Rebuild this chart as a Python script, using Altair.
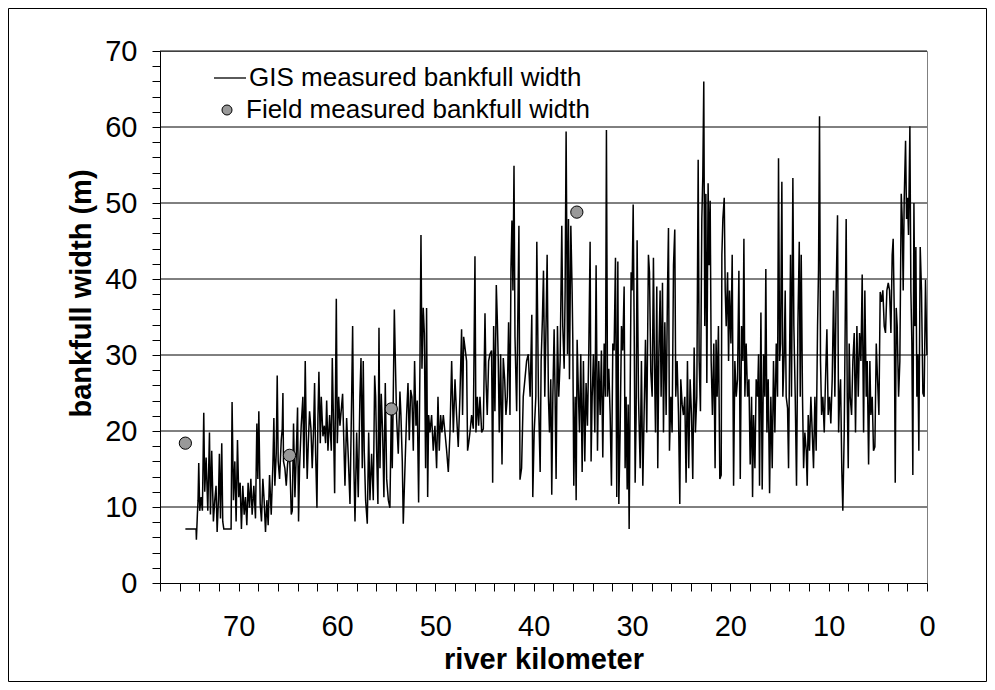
import altair as alt
import pandas as pd

# ---- GIS measured bankfull width (river km, width m) ----
km_a = [75.42, 74.33, 74.30, 74.20, 74.13, 74.06, 73.96, 73.82, 73.69, 73.55, 73.45, 73.31, 73.14, 72.97,
        72.87, 72.74, 72.57, 72.43, 72.30, 72.19, 72.06, 71.96, 71.85, 71.72, 71.62, 71.51, 70.77, 70.67,
        70.53, 70.39, 70.26, 70.12, 69.99, 69.85, 69.72, 69.58, 69.44, 69.31, 69.17, 69.04, 68.90, 68.76,
        68.63, 68.46, 68.29, 68.15, 68.05, 67.95, 67.81, 67.68, 67.54, 67.41, 67.27, 67.13, 67.00, 66.86,
        66.69, 66.52, 66.42, 66.32, 66.18, 66.08, 65.98, 65.84, 65.67, 65.57, 65.50, 65.44, 65.30, 65.16,
        65.03, 64.83, 64.65, 64.55, 64.42, 64.28, 64.15, 64.01, 63.91, 63.81, 63.64, 63.47, 63.37, 63.23,
        63.13, 63.03, 62.92, 62.79, 62.65, 62.52, 62.38, 62.28, 62.18, 62.04, 61.94, 61.84, 61.70, 61.60,
        61.43, 61.29, 61.16, 61.05, 60.92, 60.75, 60.58, 60.48, 60.34, 60.24, 60.17, 60.07, 59.97, 59.83]
w_a = [7.1, 7.1, 5.7, 9.0, 10.9, 15.8, 9.5, 11.3, 9.5, 22.4, 12.0, 16.5, 9.5, 19.8,
       9.0, 17.4, 8.1, 10.9, 12.8, 6.7, 10.9, 17.0, 8.5, 18.4, 8.1, 7.1, 7.1, 23.8,
       10.9, 16.0, 8.1, 18.8, 11.3, 13.2, 7.1, 12.8, 9.0, 11.3, 7.6, 13.2, 9.9, 13.7,
       9.0, 12.8, 8.5, 21.0, 13.7, 22.6, 10.4, 8.1, 13.7, 10.9, 6.7, 10.9, 7.6, 14.2,
       9.0, 15.6, 21.7, 12.8, 17.0, 27.3, 16.0, 13.7, 18.8, 20.3, 25.0, 16.0, 15.1, 12.8,
       15.6, 17.4, 9.0, 9.5, 21.0, 11.3, 16.5, 23.1, 8.1, 15.1, 20.7, 24.5, 15.1, 29.2,
       19.8, 13.7, 18.4, 22.6, 20.3, 15.1, 20.3, 26.3, 17.4, 9.9, 21.7, 27.8, 18.4, 24.5,
       19.3, 20.7, 18.4, 24.0, 17.4, 22.1, 17.4, 29.6, 19.8, 11.8, 22.6, 37.4, 18.4, 24.5]

km_b = [59.70, 59.43, 59.19, 59.02, 58.85, 58.68, 58.51, 58.41, 58.28, 58.17, 58.00, 57.84, 57.67, 57.56,
        57.43, 57.33, 57.23, 57.09, 56.92, 56.78, 56.65, 56.48, 56.31, 56.17, 56.07, 55.97, 55.84, 55.73,
        55.63, 55.50, 55.36, 55.23, 55.09, 54.95, 54.78, 54.62, 54.48, 54.38, 54.28, 54.17, 54.07, 53.94,
        53.77, 53.60, 53.50, 53.36, 53.26, 53.09, 52.92, 52.78, 52.65, 52.51, 52.38, 52.24, 52.11, 51.97,
        51.84, 51.70, 51.56, 51.46, 51.36, 51.23, 51.12, 50.99, 50.89, 50.78, 50.68, 50.55, 50.38, 50.21,
        50.04, 49.87, 49.73, 49.60, 49.46, 49.33, 49.19, 49.02, 48.85, 48.68, 48.51, 48.34, 48.17, 48.00,
        47.84, 47.67, 47.50, 47.33, 47.23, 47.12, 46.99, 46.82, 46.72, 46.61, 46.48, 46.31, 46.14, 45.97,
        45.87, 45.73, 45.60, 45.46, 45.29, 45.12, 44.95, 44.85, 44.72, 44.58, 44.45, 44.28, 44.17, 44.07,
        43.94, 43.80, 43.70, 43.60, 43.50, 43.36, 43.22, 43.09, 42.95, 42.82, 42.68, 42.55, 42.41, 42.31,
        42.21, 42.11, 42.00, 41.90, 41.73, 41.60, 41.50, 41.39, 41.23, 41.06, 40.89, 40.72, 40.55]
w_b = [20.7, 24.9, 12.8, 21.7, 16.5, 10.4, 24.5, 33.8, 15.1, 8.1, 19.8, 11.3, 24.5, 29.6,
       15.1, 29.2, 17.4, 10.9, 7.8, 19.8, 10.9, 17.0, 10.9, 27.3, 24.5, 17.4, 10.4, 33.6,
       15.1, 24.9, 19.8, 11.3, 26.3, 13.7, 10.9, 9.9, 22.6, 15.1, 24.5, 36.0, 29.6, 21.7,
       17.0, 25.2, 22.1, 16.0, 7.8, 15.1, 22.1, 26.3, 18.8, 25.4, 24.5, 17.4, 29.2, 20.7,
       24.0, 10.6, 29.2, 45.8, 28.2, 36.2, 32.9, 15.1, 36.2, 11.3, 22.1, 19.8, 22.1, 17.4,
       20.7, 15.1, 24.5, 17.4, 22.1, 19.8, 22.1, 19.8, 17.4, 14.6, 19.8, 29.2, 19.8, 26.8,
       22.1, 17.9, 24.5, 33.4, 22.1, 32.4, 31.0, 29.2, 17.4, 18.4, 19.8, 22.1, 20.3, 43.0,
       19.8, 24.5, 20.7, 24.5, 19.8, 20.3, 35.5, 26.8, 22.1, 29.2, 30.1, 30.6, 13.2, 33.8,
       22.6, 39.2, 34.8, 29.2, 19.8, 30.1, 15.6, 29.6, 26.8, 22.1, 24.5, 34.3, 22.1, 41.3,
       47.7, 38.5, 54.9, 32.4, 22.6, 36.2, 47.0, 13.6, 15.1, 24.5, 26.8, 29.2, 30.1]

km_c = [40.36, 40.19, 40.09, 39.95, 39.78, 39.68, 39.51, 39.34, 39.24, 39.11, 39.00, 38.87, 38.73, 38.63,
        38.50, 38.39, 38.26, 38.16, 38.05, 37.92, 37.82, 37.72, 37.58, 37.45, 37.31, 37.14, 37.04, 36.90,
        36.80, 36.70, 36.56, 36.46, 36.36, 36.22, 36.09, 36.02, 35.92, 35.78, 35.68, 35.58, 35.44, 35.34,
        35.21, 35.07, 34.94, 34.80, 34.67, 34.53, 34.39, 34.26, 34.16, 34.05, 33.92, 33.78, 33.65, 33.51,
        33.38, 33.24, 33.11, 32.97, 32.83, 32.70, 32.60, 32.49, 32.36, 32.22, 32.09, 31.95, 31.82, 31.68,
        31.55, 31.44, 31.34, 31.21, 31.07, 30.94, 30.80, 30.70, 30.60, 30.49, 30.39, 30.29, 30.19, 30.09,
        29.99, 29.88, 29.78, 29.68, 29.58, 29.48, 29.34, 29.17, 29.04, 28.90, 28.77, 28.63, 28.50, 28.33,
        28.22, 28.09, 27.95, 27.82, 27.72, 27.61, 27.48, 27.38, 27.27, 27.14, 27.04, 26.90, 26.80, 26.66,
        26.53, 26.39, 26.29, 26.19, 26.05, 25.92, 25.78, 25.65, 25.55, 25.41, 25.27, 25.14, 25.04, 24.90,
        24.77, 24.63, 24.50, 24.36, 24.23, 24.09, 23.95, 23.82, 23.68, 23.55, 23.41, 23.27, 23.17, 23.04,
        22.90, 22.80, 22.70, 22.60, 22.49, 22.39, 22.26, 22.16, 22.05, 21.95, 21.82, 21.68, 21.55, 21.45,
        21.34, 21.21, 21.07]
w_c = [24.5, 35.3, 11.3, 19.8, 24.5, 44.9, 24.5, 14.6, 29.2, 34.8, 41.1, 24.5, 34.8, 43.2,
       24.5, 19.8, 26.8, 11.6, 24.5, 33.4, 24.5, 13.7, 33.8, 24.5, 29.2, 47.0, 33.8, 28.2,
       38.5, 59.4, 30.1, 47.9, 26.8, 47.0, 38.5, 32.0, 12.8, 24.5, 10.9, 32.0, 24.5, 19.8,
       30.1, 14.6, 29.2, 16.0, 26.3, 20.7, 31.0, 44.9, 16.0, 24.5, 30.1, 19.8, 41.8, 17.4,
       29.2, 22.1, 30.6, 16.5, 31.5, 24.5, 59.6, 24.5, 28.2, 22.1, 12.8, 31.5, 30.6, 42.8,
       11.3, 42.3, 10.4, 19.8, 33.8, 30.6, 39.0, 15.1, 24.5, 12.3, 23.5, 7.1, 24.5, 40.9,
       38.5, 49.8, 33.8, 13.2, 22.1, 45.1, 24.5, 15.1, 29.2, 12.8, 22.1, 32.0, 19.8, 43.2,
       40.9, 27.8, 24.5, 42.8, 29.2, 19.8, 39.0, 15.1, 30.1, 38.5, 24.5, 39.5, 19.8, 34.3,
       22.1, 38.5, 46.7, 17.4, 24.5, 19.8, 41.8, 46.5, 24.5, 29.2, 22.1, 10.4, 26.8, 23.5,
       22.1, 24.5, 13.2, 29.2, 15.1, 26.8, 22.1, 13.7, 31.0, 19.8, 24.5, 55.7, 29.2, 22.6,
       47.9, 53.5, 66.0, 33.8, 51.2, 26.3, 52.6, 41.8, 50.3, 29.2, 22.1, 31.5, 15.1, 32.0,
       24.5, 33.8, 13.7]

km_d = [20.93, 20.86, 20.76, 20.62, 20.52, 20.42, 20.28, 20.18, 20.08, 19.94, 19.81, 19.67, 19.54, 19.40,
        19.27, 19.13, 18.99, 18.86, 18.72, 18.62, 18.52, 18.39, 18.25, 18.11, 17.98, 17.84, 17.74, 17.64,
        17.50, 17.37, 17.23, 17.13, 17.03, 16.89, 16.76, 16.62, 16.49, 16.39, 16.28, 16.15, 16.01, 15.88,
        15.74, 15.61, 15.47, 15.33, 15.20, 15.10, 14.99, 14.89, 14.76, 14.66, 14.52, 14.42, 14.32, 14.18,
        14.08, 13.98, 13.88, 13.78, 13.64, 13.54, 13.40, 13.27, 13.13, 12.99, 12.89, 12.79, 12.66, 12.55,
        12.42, 12.28, 12.18, 12.08, 11.95, 11.81, 11.67, 11.54, 11.40, 11.27, 11.13, 11.03, 10.93, 10.83,
        10.72, 10.59, 10.45, 10.32, 10.18, 10.05, 9.91, 9.78, 9.64, 9.50, 9.37, 9.23, 9.10, 8.99,
        8.89, 8.79, 8.66, 8.56, 8.42, 8.32, 8.22, 8.11, 8.01, 7.91, 7.81, 7.67, 7.54, 7.40,
        7.27, 7.13, 6.99, 6.86, 6.72, 6.59, 6.45, 6.32, 6.18, 6.08, 5.94, 5.81, 5.71, 5.57,
        5.44, 5.30, 5.16, 5.03, 4.89, 4.76, 4.62, 4.49, 4.35, 4.22, 4.08, 3.94, 3.81, 3.67,
        3.54, 3.44, 3.33, 3.23, 3.13, 3.03, 2.89, 2.76, 2.62, 2.52, 2.42, 2.32, 2.18, 2.08,
        1.98, 1.88, 1.74, 1.64, 1.54, 1.44, 1.33, 1.23, 1.13, 1.03, 0.93, 0.83, 0.69, 0.56,
        0.42, 0.29, 0.15, 0.01]
w_d = [14.2, 43.2, 47.9, 50.7, 38.5, 33.8, 40.9, 29.2, 38.5, 31.5, 43.2, 12.8, 29.2, 24.5,
       26.8, 41.1, 13.7, 33.8, 29.2, 45.3, 24.5, 31.5, 24.5, 26.8, 15.6, 24.5, 11.3, 22.1,
       15.1, 26.8, 24.5, 30.1, 12.8, 35.6, 12.3, 30.1, 24.5, 41.3, 19.8, 26.8, 11.8, 24.5,
       15.1, 29.2, 19.8, 31.5, 24.5, 55.9, 29.2, 31.5, 52.8, 24.5, 30.1, 38.5, 24.5, 23.0,
       15.1, 29.2, 43.2, 24.5, 53.3, 33.8, 24.5, 12.8, 33.8, 44.9, 24.5, 43.2, 24.5, 15.1,
       19.8, 17.4, 12.8, 22.1, 17.4, 24.5, 19.8, 15.1, 24.5, 17.4, 33.8, 41.3, 61.4, 29.2,
       22.1, 24.5, 19.8, 26.8, 33.4, 22.1, 24.5, 21.0, 26.8, 38.5, 24.5, 39.0, 48.4, 19.8,
       24.5, 26.8, 14.6, 9.5, 19.8, 33.8, 47.9, 24.5, 15.1, 31.5, 24.5, 22.1, 29.2, 32.9,
       19.8, 33.8, 24.5, 32.9, 29.2, 40.6, 19.8, 38.5, 24.5, 29.2, 15.6, 29.2, 22.1, 24.5,
       17.4, 17.9, 31.5, 26.8, 22.1, 38.3, 37.0, 38.5, 33.8, 32.9, 38.5, 39.5, 38.5, 32.9,
       43.2, 45.3, 35.7, 13.2, 36.2, 33.8, 24.5, 29.2, 51.2, 47.9, 38.5, 50.3, 58.2, 47.9,
       50.7, 45.8, 60.1, 38.5, 31.5, 14.2, 50.0, 33.8, 44.2, 24.5, 30.1, 17.4, 44.2, 38.5,
       25.0, 24.5, 39.9, 30.0]

# ---- Field measured bankfull width ----
field_km = [75.42, 64.83, 54.48, 35.61]
field_w = [18.4, 16.8, 22.9, 48.8]

grid_values = [10, 20, 30, 40, 50, 60, 70]
x_ticks = list(range(0, 79, 2))
y_ticks = list(range(0, 71, 2))

FONT = "Liberation Sans"
GIS_LABEL = "GIS measured bankfull width"
FIELD_LABEL = "Field measured bankfull width"

gis = pd.DataFrame({"km": km_a + km_b + km_c + km_d, "w": w_a + w_b + w_c + w_d})
gis["series"] = GIS_LABEL
field = pd.DataFrame({"km": field_km, "w": field_w, "series2": FIELD_LABEL})
grid = pd.DataFrame({"g": grid_values})

x_scale = alt.Scale(domain=[0, 78], reverse=True, nice=False, zero=False)
y_scale = alt.Scale(domain=[0, 70], nice=False)

x_axis = alt.Axis(
    values=x_ticks,
    labelExpr="datum.value % 10 === 0 ? datum.label : ''",
    grid=False, tickSize=8, tickColor="black", domainColor="black",
    labelFont=FONT, labelFontSize=29, labelColor="black", labelPadding=21,
    labelOverlap=False, labelFlush=False,
    title="river kilometer", titleFont=FONT, titleFontSize=29, titleFontWeight="bold",
    titleColor="black", titleY=85, titleBaseline="alphabetic",
)
y_axis = alt.Axis(
    values=y_ticks,
    labelExpr="datum.value % 10 === 0 ? datum.label : ''",
    grid=False, tickSize=8, tickColor="black", domainColor="black",
    labelFont=FONT, labelFontSize=29, labelColor="black", labelPadding=15,
    labelOverlap=False, labelFlush=False,
    title="bankfull width (m)", titleFont=FONT, titleFontSize=29, titleFontWeight="bold",
    titleColor="black", titleAngle=270, titleX=-70, titleY=242,
    titleAlign="center", titleBaseline="alphabetic",
)

rules = alt.Chart(grid).mark_rule(color="black", strokeWidth=1).encode(
    y=alt.Y("g:Q", scale=y_scale, axis=y_axis)
)

line = alt.Chart(gis).mark_line(strokeWidth=1.5).encode(
    x=alt.X("km:Q", scale=x_scale, axis=x_axis),
    y=alt.Y("w:Q", scale=y_scale, axis=y_axis),
    stroke=alt.Stroke(
        "series:N",
        scale=alt.Scale(domain=[GIS_LABEL], range=["black"]),
        legend=alt.Legend(
            title=None, orient="none", legendX=53, legendY=10, padding=0,
            symbolType="stroke", symbolSize=1024, symbolStrokeWidth=1.3,
            labelOffset=2, labelLimit=0, labelFont=FONT, labelFontSize=26, labelColor="black",
        ),
    ),
)

points = alt.Chart(field).mark_point(
    filled=True, size=150, stroke="black", strokeWidth=1, opacity=1, shape="circle"
).encode(
    x=alt.X("km:Q", scale=x_scale, axis=x_axis),
    y=alt.Y("w:Q", scale=y_scale, axis=y_axis),
    fill=alt.Fill(
        "series2:N",
        scale=alt.Scale(domain=[FIELD_LABEL], range=["#999999"]),
        legend=alt.Legend(
            title=None, orient="none", legendX=54, legendY=46, padding=0,
            symbolType="circle", symbolSize=100, symbolStrokeColor="black",
            symbolStrokeWidth=1, symbolFillColor="#999999",
            labelOffset=6, labelLimit=0, labelFont=FONT, labelFontSize=26, labelColor="black",
        ),
    ),
)

frame = alt.Chart(pd.DataFrame({"f": [0]})).mark_rect(
    fill="transparent", stroke="black", strokeWidth=1
).encode(
    x=alt.value(-151.5), x2=alt.value(826.5), y=alt.value(-42.5), y2=alt.value(630.5)
)

chart = alt.layer(rules, line, points, frame).properties(
    width=767, height=532,
    autosize=alt.AutoSizeParams(type="none"),
    padding={"left": 152, "top": 43, "right": 60, "bottom": 99},
    background="white",
).configure_view(stroke="#808080", strokeWidth=1)

chart.save("out.html", embed_options={"renderer": "svg", "actions": False})
